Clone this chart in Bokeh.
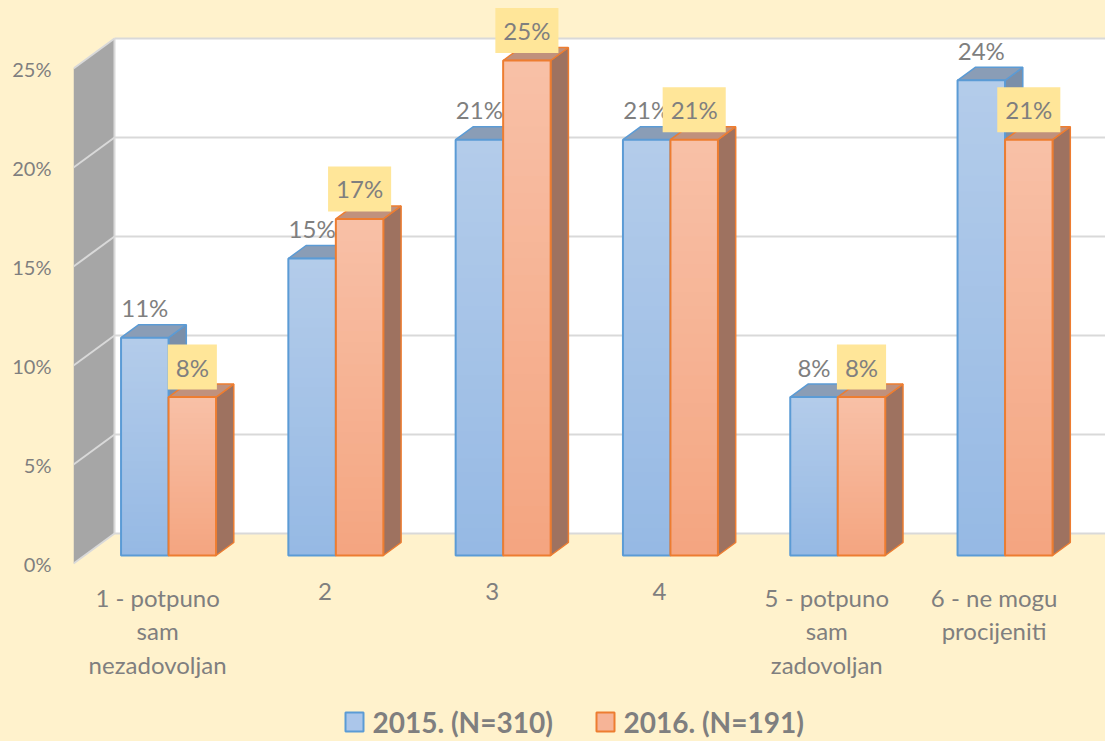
import numpy as np
from bokeh.plotting import figure
from bokeh.models import Range1d, FixedTicker, PrintfTickFormatter
from bokeh.core.properties import value
from bokeh.embed import file_html
from bokeh.resources import INLINE

# ---------------- data ----------------
categories = ["1 - potpuno\nsam\nnezadovoljan", "2", "3", "4",
              "5 - potpuno\nsam\nzadovoljan", "6 - ne mogu\nprocijeniti"]
series_names = ["2015. (N=310)", "2016. (N=191)"]
values_2015 = [11, 15, 21, 21, 8, 24]
values_2016 = [8, 17, 25, 21, 8, 21]
y_ticks = [0, 5, 10, 15, 20, 25]
y_max = 25

# ---------------- layout / style ----------------
W, H = 1105, 741
LEFT = 73            # frame left (px)
PX_X = 167.3         # px per category
PX_Y = 19.8          # px per percent
X0_PX = 157.1        # px of category 0 on front plane
Y0_PX = 563.0        # px of 0% on front plane
x_start = -(X0_PX - LEFT) / PX_X
x_end = (W - X0_PX) / PX_X
y_start = -(H - Y0_PX) / PX_Y
y_end = Y0_PX / PX_Y

DX = 41.0 / PX_X     # full depth offset, in data units
DY = 30.0 / PX_Y
D_FRONT = 0.267
D_BACK = 0.70
BAR_W = 47.5 / PX_X

BG = "#fff2cc"
GRID = "#d9d9d9"
TXT = "#7f7f7f"
FONT = value("Lato")

def fx2x(fx):
    return x_start + (fx - LEFT) / PX_X

def fy2y(fy):
    return (Y0_PX - fy) / PX_Y

p = figure(width=W, height=H, output_backend="svg", toolbar_location=None,
           x_range=Range1d(x_start, x_end), y_range=Range1d(y_start, y_end),
           min_border_left=LEFT, min_border_right=0, min_border_top=0,
           min_border_bottom=0)
p.background_fill_color = BG
p.border_fill_color = BG
p.outline_line_color = None
p.grid.visible = False
p.xaxis.visible = False

ya = p.yaxis[0]
ya.ticker = FixedTicker(ticks=y_ticks)
ya.formatter = PrintfTickFormatter(format="%d%%")
ya.axis_line_color = None
ya.major_tick_line_color = None
ya.minor_tick_line_color = None
ya.major_tick_out = 0
ya.major_tick_in = 0
ya.major_label_standoff = 22
ya.major_label_text_font = "Lato"
ya.major_label_text_font_size = "20px"
ya.major_label_text_color = TXT

# ---------------- walls ----------------
p.patch([x_start, x_start, x_start + DX, x_start + DX],
        [0, y_max, y_max + DY, DY], fill_color="#a6a6a6", line_color=None)
p.quad(left=[x_start + DX], right=[x_end + 1], bottom=[DY], top=[y_max + DY],
       fill_color="white", line_color=None)
p.segment(x0=[x_start + DX] * len(y_ticks), y0=[t + DY for t in y_ticks],
          x1=[x_end + 1] * len(y_ticks), y1=[t + DY for t in y_ticks],
          line_color=GRID, line_width=2)
p.segment(x0=[x_start] * len(y_ticks), y0=y_ticks,
          x1=[x_start + DX] * len(y_ticks), y1=[t + DY for t in y_ticks],
          line_color=GRID, line_width=2)
p.segment(x0=[x_start + DX], y0=[DY], x1=[x_start + DX], y1=[y_max + DY],
          line_color=GRID, line_width=2)

# ---------------- bars ----------------
def hex2rgb(h):
    h = h.lstrip("#")
    return np.array([int(h[i:i + 2], 16) for i in (0, 2, 4)], dtype=float)

def rgb2hex(c):
    return "#%02x%02x%02x" % tuple(int(round(v)) for v in c)

def draw_series(vals, offset, c_top, c_bot, c_lid, c_side, c_line):
    n = len(vals)
    lefts = [i + offset + DX * D_FRONT for i in range(n)]
    rights = [l + BAR_W for l in lefts]
    base = DY * D_FRONT
    tops = [v + base for v in vals]
    ddx = DX * (D_BACK - D_FRONT)
    ddy = DY * (D_BACK - D_FRONT)
    # side faces
    p.patches([[r, r, r + ddx, r + ddx] for r in rights],
              [[base, t, t + ddy, base + ddy] for t in tops],
              fill_color=c_side, line_color=c_line, line_width=1.5)
    # top faces
    p.patches([[l, r, r + ddx, l + ddx] for l, r in zip(lefts, rights)],
              [[t, t, t + ddy, t + ddy] for t in tops],
              fill_color=c_lid, line_color=c_line, line_width=1.5)
    # gradient front faces
    N = 30
    ct, cb = hex2rgb(c_top), hex2rgb(c_bot)
    L, R, B, T, C = [], [], [], [], []
    for l, r, t in zip(lefts, rights, tops):
        h = (t - base) / N
        for k in range(N):
            f = (k + 0.5) / N
            L.append(l); R.append(r)
            B.append(base + k * h); T.append(min(base + (k + 1) * h + h * 0.3, t))
            C.append(rgb2hex(cb + (ct - cb) * f))
    p.quad(left=L, right=R, bottom=B, top=T, fill_color=C, line_color=None)
    p.quad(left=lefts, right=rights, bottom=[base] * n, top=tops,
           fill_color=None, line_color=c_line, line_width=2)
    return [(l + r) / 2 for l, r in zip(lefts, rights)], tops

cx15, top15 = draw_series(values_2015, -BAR_W, "#b4ccea", "#95b9e4",
                          "#8a9db6", "#7b8fa9", "#5b9bd5")
cx16, top16 = draw_series(values_2016, 0.0, "#f8c0a7", "#f4a580",
                          "#c0917d", "#9e7260", "#ed7d31")

# ---------------- data labels ----------------
LAB_OFF = 30.0 / PX_Y
p.text(x=cx15, y=[t + LAB_OFF for t in top15],
       text=[f"{v}%" for v in values_2015], text_align="center",
       text_baseline="middle", text_font=FONT, text_font_size="24px",
       text_color=TXT)
p.text(x=cx16, y=[t + LAB_OFF for t in top16],
       text=[f"{v}%" for v in values_2016], text_align="center",
       text_baseline="middle", text_font=FONT, text_font_size="24px",
       text_color=TXT, background_fill_color="#ffe699", padding=8)

# ---------------- category labels ----------------
p.text(x=list(range(len(categories))), y=[fy2y(582)] * len(categories),
       text=categories, text_align="center", text_baseline="top",
       text_font=FONT, text_font_size="24px", text_color=TXT,
       text_line_height=1.17)

# ---------------- legend ----------------
leg_sq = [(345, "#abc6ea", "#5b9bd5"), (596, "#f6b497", "#ed7d31")]
for (sx, fc, lc), name in zip(leg_sq, series_names):
    p.quad(left=[fx2x(sx)], right=[fx2x(sx + 18)], bottom=[fy2y(731)],
           top=[fy2y(712)], fill_color=fc, line_color=lc, line_width=2)
    p.text(x=[fx2x(sx + 27)], y=[fy2y(721)], text=[name], text_align="left",
           text_baseline="middle", text_font=FONT, text_font_size="28px",
           text_font_style="bold", text_color=TXT)

html = file_html(p, INLINE)
html = html.replace("<head>", "<head><style>html,body{background:#fff2cc;}</style>", 1)
open("out.html", "w").write(html)
